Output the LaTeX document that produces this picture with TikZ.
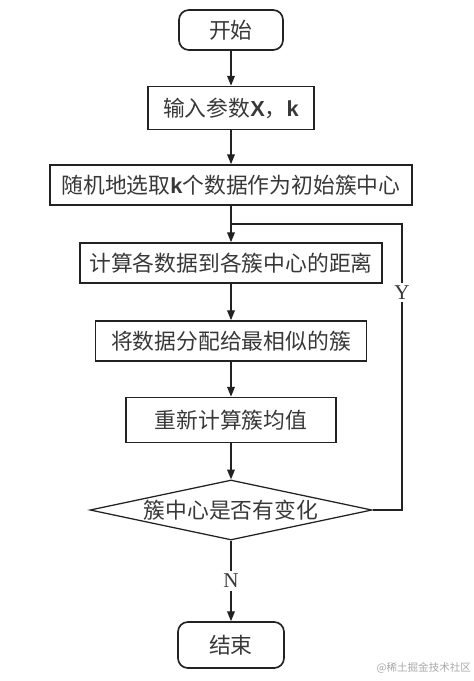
\documentclass[tikz,border=0pt]{standalone}
\usepackage{fontspec}
\newfontfamily\cjk{Noto Sans CJK SC}
\newfontfamily\latinsans{Liberation Sans}
\newfontfamily\latinserif{Liberation Serif}
\usetikzlibrary{shapes.geometric, arrows.meta, calc}
\usepackage{xcolor}
\definecolor{FlowBlack}{HTML}{222222}
\definecolor{FlowText}{HTML}{383838}
\definecolor{FlowMark}{HTML}{A8A8A8}
\tikzset{
    % Box styles
    terminal/.style={
        rectangle,
        rounded corners=7pt,
        draw=FlowBlack,
        line width=1.2pt,
        minimum width=2.6cm,
        minimum height=1cm,
        inner sep=0pt,
        align=center,
        text=FlowText,
        font=\cjk\fontsize{15.5}{18}\selectfont
    },
    process/.style={
        rectangle,
        draw=FlowBlack,
        line width=1.2pt,
        minimum height=1cm,
        inner sep=0pt,
        align=center,
        text=FlowText,
        font=\cjk\fontsize{15.5}{18}\selectfont
    },
    decision/.style={
        diamond,
        aspect=4.7,
        draw=FlowBlack,
        line width=0.9pt,
        minimum width=7.05cm,
        minimum height=1.5cm,
        inner sep=0pt,
        align=center,
        text=FlowText,
        font=\cjk\fontsize{15.5}{18}\selectfont
    },
    % Branch marks
    branch/.style={
        fill=white,
        inner sep=2pt,
        text=FlowText,
        font=\latinserif\fontsize{15}{18}\selectfont
    },
    % Arrow styles
    arrow/.style={
        -{Triangle[length=7pt,width=5.5pt]},
        line width=0.9pt,
        draw=FlowBlack
    },
    line/.style={
        line width=0.9pt,
        draw=FlowBlack
    }
}
\newcommand{\latk}[1]{{\latinsans\bfseries #1}}

\begin{document}
\begin{tikzpicture}
    \useasboundingbox (-5.775,0) rectangle (6.05,-17.025);

    \node[terminal] (start) at (0,-0.75) {开始};
    \node[process, minimum width=4.15cm, minimum height=1.075cm] (input) at (0,-2.7) {输入参数\latk{X}，\latk{k}};
    \node[process, minimum width=9.05cm] (init) at (0,-4.625) {随机地选取\latk{k}个数据作为初始簇中心};
    \node[process, minimum width=7.55cm] (dist) at (0,-6.575) {计算各数据到各簇中心的距离};
    \node[process, minimum width=6.775cm] (assign) at (0,-8.525) {将数据分配给最相似的簇};
    \node[process, minimum width=5.25cm, minimum height=1.125cm] (update) at (0,-10.5) {重新计算簇均值};
    \node[decision] (check) at (0,-12.75) {簇中心是否有变化};
    \node[terminal, minimum width=2.65cm, minimum height=1.15cm] (stop) at (0,-16.125) {结束};

    \coordinate (join) at ($(init.south)!0.5!(dist.north)$);
    \coordinate (loop) at (4.275,-12.75);

    \draw[arrow] (start) -- (input);
    \draw[arrow] (input) -- (init);
    \draw[arrow] (init) -- (dist);
    \draw[arrow] (dist) -- (assign);
    \draw[arrow] (assign) -- (update);
    \draw[arrow] (update) -- (check);
    \draw[arrow] (check) -- node[branch] {N} (stop);
    \draw[line] (check.east) -- (loop) -- node[branch, pos=0.76] {Y} (loop |- join) -- (join);

    \node[text=FlowMark, font=\cjk\fontsize{7.5}{9}\selectfont] (mark) at (4.82,-16.7) {@稀土掘金技术社区};
\end{tikzpicture}
\end{document}
